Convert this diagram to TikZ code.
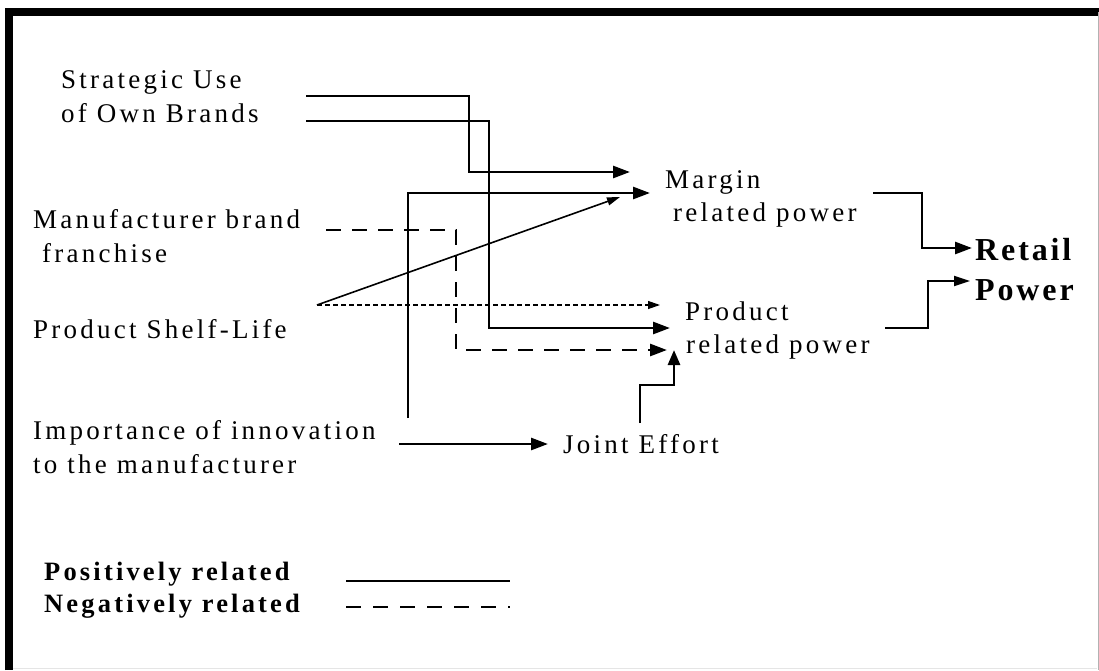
\documentclass[tikz,border=0pt]{standalone}
\usepackage{fontspec}
\setmainfont{Liberation Serif}[LetterSpace=12]
\newfontfamily\retfont{Liberation Serif}[LetterSpace=9]
\usetikzlibrary{arrows.meta}

\begin{document}
\begin{tikzpicture}[x=1pt,y=-1pt,
  lbl/.style={anchor=base west,inner sep=0pt,font=\fontsize{27}{31}\selectfont},
  boldlbl/.style={lbl,font=\fontsize{26.5}{31}\selectfont\bfseries},
  retlbl/.style={lbl,font=\retfont\fontsize{32}{38}\selectfont\bfseries},
  posline/.style={line width=2.7pt,-{Triangle[length=17pt,width=12pt]}},
  negline/.style={posline,dash pattern=on 15pt off 11pt},
  weakpos/.style={line width=1.6pt,-{Triangle[length=13pt,width=8pt]}},
  weakneg/.style={line width=1.2pt,dash pattern=on 5pt off 3pt,-{Triangle[length=12pt,width=8pt]}}]
\useasboundingbox (0,0) rectangle (1099,670);
% frame
\draw[line width=8pt] (9,670) -- (9,12) -- (1099,12);
\draw[gray!60,line width=1pt] (1098,12) -- (1098,670);
\draw[gray!20,line width=1pt] (13,668) -- (1097,668);
% factors
\node[lbl] (sub1) at (61,88) {Strategic Use};
\node[lbl] (sub2) at (61,122) {of Own Brands};
\node[lbl] (mfr1) at (33,228) {Manufacturer brand};
\node[lbl] (mfr2) at (42,262) {franchise};
\node[lbl] (shelf) at (33,338) {Product Shelf-Life};
\node[lbl] (innov1) at (33,439) {Importance of innovation};
\node[lbl] (innov2) at (33,473) {to the manufacturer};
% outcomes
\node[lbl] (marg1) at (665,188) {Margin};
\node[lbl] (marg2) at (673,221) {related power};
\node[lbl] (prod1) at (685,320) {Product};
\node[lbl] (prod2) at (686,353) {related power};
\node[lbl] (joint) at (563,453) {Joint Effort};
\node[retlbl] (ret1) at (975,260) {Retail};
\node[retlbl] (ret2) at (975,300) {Power};
% connector ends
\coordinate (subA) at (306,96);
\coordinate (subB) at (306,121);
\coordinate (mfrA) at (326,230);
\coordinate (shelfA) at (317,305);
\coordinate (innovA) at (408,418);
\coordinate (innovB) at (399,444);
\coordinate (margA) at (630,172);
\coordinate (margB) at (650,193);
\coordinate (margC) at (620,197);
\coordinate (prodA) at (660,305);
\coordinate (prodB) at (670,328);
\coordinate (prodC) at (667,350);
\coordinate (prodD) at (674,350);
\coordinate (jointA) at (548,444);
\coordinate (jointB) at (640,423);
\coordinate (margOut) at (873,193);
\coordinate (prodOut) at (885,328);
\coordinate (retA) at (972,248);
\coordinate (retB) at (970,281);
% connectors
\draw[posline] (subA) -- (469,96) |- (margA);
\draw[posline] (subB) -- (489,121) |- (prodB);
\draw[posline] (innovA) |- (margB);
\draw[negline] (mfrA) -- (456,230) |- (prodC);
\draw[weakpos] (shelfA) -- (margC);
\draw[weakneg] (shelfA) -- (prodA);
\draw[posline] (innovB) -- (jointA);
\draw[posline,-{Triangle[length=15pt,width=12pt]}] (jointB) -- (640,385) -| (prodD);
\draw[posline] (margOut) -- (922,193) |- (retA);
\draw[posline,line width=2pt,-{Triangle[length=16pt,width=10pt]}] (prodOut) -- (928,328) |- (retB);
% legend
\node[boldlbl] (leg1) at (44,580) {Positively related};
\node[boldlbl] (leg2) at (44,612) {Negatively related};
\coordinate (posA) at (346,581);
\coordinate (posB) at (510,581);
\coordinate (negA) at (346,607);
\coordinate (negB) at (510,607);
\draw[line width=2.5pt] (posA) -- (posB);
\draw[line width=2.5pt,dash pattern=on 15pt off 12pt] (negA) -- (negB);
\end{tikzpicture}
\end{document}
